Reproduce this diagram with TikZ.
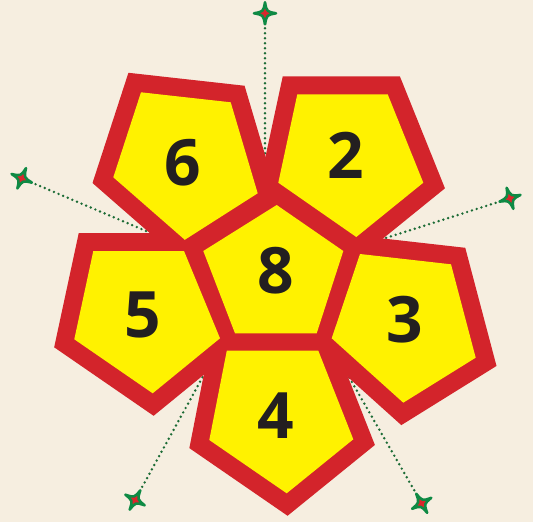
\documentclass[tikz,border=0pt]{standalone}
\usepackage{fontspec}
\setmainfont{Open Sans}
\usetikzlibrary{calc}
\definecolor{bg}{HTML}{F6EEE0}
\definecolor{pred}{HTML}{D3242B}
\definecolor{pyel}{HTML}{FFF200}
\definecolor{dgreen}{HTML}{1B6B35}
\definecolor{sgreen}{HTML}{0E8A44}
\definecolor{sred}{HTML}{D9262C}
\definecolor{ink}{HTML}{231F20}
\tikzset{
  rim/.style={draw=pred,fill=pred,line width=36pt,line join=miter,miter limit=10},
  face/.style={fill=pyel},
  dotline/.style={draw=dgreen,line width=2.7pt,line cap=round,dash pattern=on 0pt off 5pt},
  numlabel/.style={font=\fontsize{64}{64}\selectfont\bfseries,text=ink,inner sep=0pt},
  crossstar/.pic={
    \path[fill=sred,draw=sgreen,line width=2.6pt,line join=round]
      (11,0) .. controls (1.7,1.7) .. (0,11)
      .. controls (-1.7,1.7) .. (-11,0)
      .. controls (-1.7,-1.7) .. (0,-11)
      .. controls (1.7,-1.7) .. (11,0) -- cycle;
  }
}
\begin{document}
\begin{tikzpicture}[x=1pt,y=-1pt]
\fill[bg] (0,0) rectangle (533,522);
\useasboundingbox (0,0) rectangle (533,522);
% pentagon vertices (inner yellow outline)
\coordinate (h1) at (276.7,205);   \coordinate (h2) at (343.3,251);
\coordinate (h3) at (316.7,333.3); \coordinate (h4) at (235,333.3);
\coordinate (h5) at (203.3,251);
\coordinate (s1) at (141,92.3);    \coordinate (s2) at (230.7,102.3);
\coordinate (s3) at (257.7,193.3); \coordinate (s4) at (184.8,239.8);
\coordinate (s5) at (113.3,177.3);
\coordinate (t1) at (297.3,94.3);  \coordinate (t2) at (387.7,94.3);
\coordinate (t3) at (423.3,182.7); \coordinate (t4) at (356.3,237);
\coordinate (t5) at (278.3,182.7);
\coordinate (f1) at (93.3,251);    \coordinate (f2) at (184,251);
\coordinate (f3) at (220,338.3);   \coordinate (f4) at (152.7,393.3);
\coordinate (f5) at (74.3,339.3);
\coordinate (r1) at (360,254);     \coordinate (r2) at (451,264.3);
\coordinate (r3) at (475.7,357.7); \coordinate (r4) at (403.3,402.7);
\coordinate (r5) at (331.7,338.3);
\coordinate (q1) at (226.8,350.7); \coordinate (q2) at (318.3,350.7);
\coordinate (q3) at (353.3,439.3); \coordinate (q4) at (286.7,493.3);
\coordinate (q5) at (209.3,440);
% markers and hidden ends of the dotted lines
\coordinate (m1) at (265,13.3);    \coordinate (e1) at (265,175);
\coordinate (m2) at (21.7,178.3);  \coordinate (e2) at (152,233.5);
\coordinate (m3) at (510,198.3);   \coordinate (e3) at (378,240.5);
\coordinate (m4) at (135,500);     \coordinate (e4) at (206,371);
\coordinate (m5) at (421.7,503.3); \coordinate (e5) at (349,377);
% dotted lines
\draw[dotline] (m1) -- (e1);
\draw[dotline] (m2) -- (e2);
\draw[dotline] (m3) -- (e3);
\draw[dotline] (m4) -- (e4);
\draw[dotline] (m5) -- (e5);
% red rims
\path[rim] (h1) -- (h2) -- (h3) -- (h4) -- (h5) -- cycle;
\path[rim] (s1) -- (s2) -- (s3) -- (s4) -- (s5) -- cycle;
\path[rim] (t1) -- (t2) -- (t3) -- (t4) -- (t5) -- cycle;
\path[rim] (f1) -- (f2) -- (f3) -- (f4) -- (f5) -- cycle;
\path[rim] (r1) -- (r2) -- (r3) -- (r4) -- (r5) -- cycle;
\path[rim] (q1) -- (q2) -- (q3) -- (q4) -- (q5) -- cycle;
% yellow faces
\path[face] (h1) -- (h2) -- (h3) -- (h4) -- (h5) -- cycle;
\path[face] (s1) -- (s2) -- (s3) -- (s4) -- (s5) -- cycle;
\path[face] (t1) -- (t2) -- (t3) -- (t4) -- (t5) -- cycle;
\path[face] (f1) -- (f2) -- (f3) -- (f4) -- (f5) -- cycle;
\path[face] (r1) -- (r2) -- (r3) -- (r4) -- (r5) -- cycle;
\path[face] (q1) -- (q2) -- (q3) -- (q4) -- (q5) -- cycle;
% labels
\node[numlabel] (n8) at (276,271) {8};
\node[numlabel] (n6) at (183,163) {6};
\node[numlabel] (n2) at (346,155.5) {2};
\node[numlabel] (n5) at (142.5,314.5) {5};
\node[numlabel] (n3) at (404.7,319.3) {3};
\node[numlabel] (n4) at (276,415.5) {4};
% star markers
\pic at (m1) {crossstar};
\pic[rotate=-23] at (m2) {crossstar};
\pic[rotate=17.7] at (m3) {crossstar};
\pic[rotate=-28.9] at (m4) {crossstar};
\pic[rotate=29.8] at (m5) {crossstar};
\end{tikzpicture}
\end{document}
